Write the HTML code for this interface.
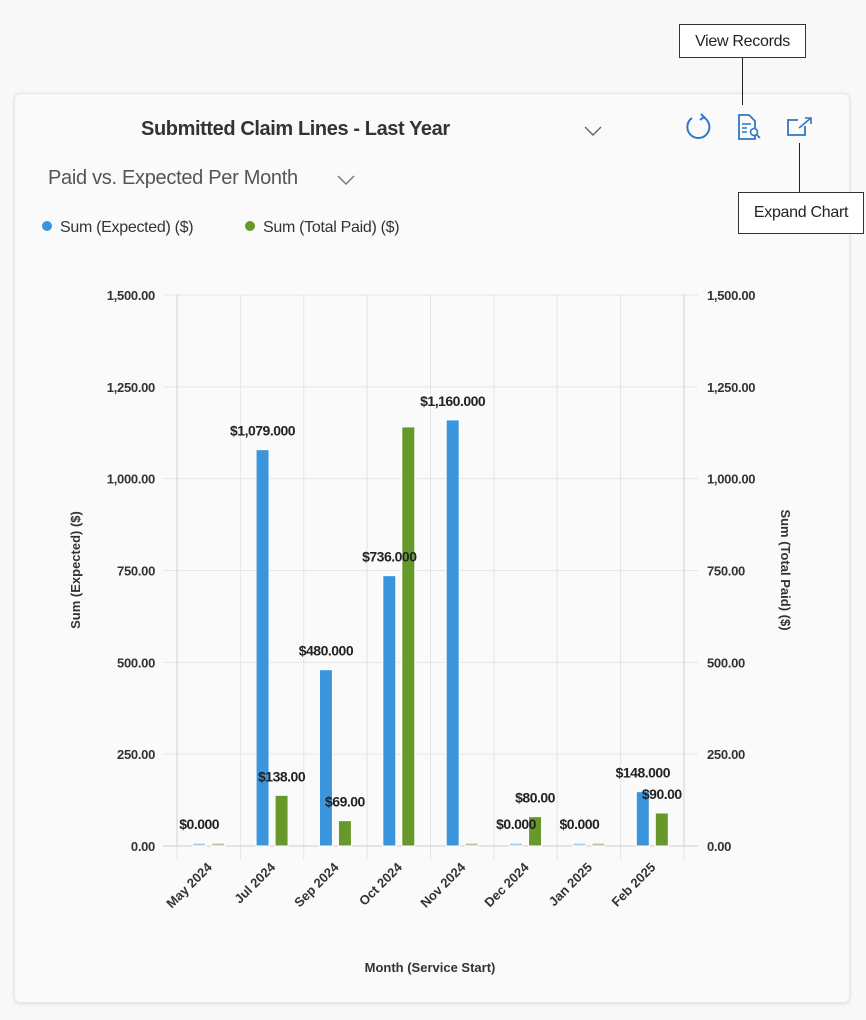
<!DOCTYPE html>
<html><head><meta charset="utf-8"><style>
html,body{margin:0;padding:0;background:#f8f8f8;width:866px;height:1020px;overflow:hidden;font-family:"Liberation Sans",sans-serif;}
.card{position:absolute;left:14px;top:93px;width:834px;height:908px;background:#fafafa;border:1px solid #e6e6e6;border-radius:6px;box-shadow:0 1px 3px rgba(0,0,0,.12);}
.t{position:absolute;color:#242424;white-space:nowrap;}
.callout{position:absolute;background:#fff;border:1px solid #333;font-size:16px;color:#222;height:32px;line-height:32px;letter-spacing:-.3px;text-align:center;box-sizing:border-box;}
</style></head><body>
<div class="card"></div>
<div class="t" style="left:141px;top:118px;font-size:20px;font-weight:bold;letter-spacing:-.4px;color:#333">Submitted Claim Lines - Last Year</div>
<svg style="position:absolute;left:583px;top:125px" width="20" height="12"><polyline points="2,2 10,10 18,2" fill="none" stroke="#666" stroke-width="1.4"/></svg>
<svg style="position:absolute;left:683px;top:113px" width="30" height="30"><path d="M9,5 A11,11 0 1 0 20,4" fill="none" stroke="#2f78c4" stroke-width="2"/><polyline points="18,1 21,4 17,7" fill="none" stroke="#2f78c4" stroke-width="2"/></svg>
<svg style="position:absolute;left:737px;top:114px" width="26" height="28"><path d="M2,1 H12 L18,7 V25 H2 Z" fill="none" stroke="#2f78c4" stroke-width="1.8"/><line x1="5" y1="10" x2="14" y2="10" stroke="#2f78c4" stroke-width="1.5"/><line x1="5" y1="14" x2="10" y2="14" stroke="#2f78c4" stroke-width="1.5"/><line x1="5" y1="18" x2="10" y2="18" stroke="#2f78c4" stroke-width="1.5"/><circle cx="17" cy="18" r="3.5" fill="#fafafa" stroke="#2f78c4" stroke-width="1.6"/><line x1="19.5" y1="20.5" x2="23" y2="24" stroke="#2f78c4" stroke-width="1.8"/></svg>
<svg style="position:absolute;left:786px;top:116px" width="28" height="22"><path d="M12,4 H2 V19 H19 V10" fill="none" stroke="#2f78c4" stroke-width="1.8"/><line x1="13" y1="12" x2="25" y2="2" stroke="#2f78c4" stroke-width="1.6"/><polyline points="19,2 25,2 25,8" fill="none" stroke="#2f78c4" stroke-width="1.6"/></svg>
<div style="position:absolute;left:742px;top:58px;width:1px;height:47px;background:#222"></div>
<div style="position:absolute;left:799px;top:143px;width:1px;height:49px;background:#222"></div>
<div class="callout" style="left:679px;top:24px;width:127px;height:34px;line-height:34px">View Records</div>
<div class="callout" style="left:738px;top:192px;width:126px;height:42px;line-height:40px">Expand Chart</div>
<div class="t" style="left:48px;top:167px;font-size:20px;color:#555;letter-spacing:-.3px">Paid vs. Expected Per Month</div>
<svg style="position:absolute;left:336px;top:174px" width="20" height="12"><polyline points="2,2 10,10 18,2" fill="none" stroke="#777" stroke-width="1.4"/></svg>
<div class="t" style="left:42px;top:219px;font-size:16px;color:#333;letter-spacing:-.3px"><span style="display:inline-block;width:10px;height:10px;border-radius:50%;background:#3b95dc;margin-right:8px;vertical-align:1px"></span>Sum (Expected) ($)</div>
<div class="t" style="left:245px;top:219px;font-size:16px;color:#333;letter-spacing:-.3px"><span style="display:inline-block;width:10px;height:10px;border-radius:50%;background:#67982a;margin-right:8px;vertical-align:1px"></span>Sum (Total Paid) ($)</div>
<svg id="chart" style="position:absolute;left:0;top:0" width="866" height="1020"></svg>
<script>
const categories=["May 2024","Jul 2024","Sep 2024","Oct 2024","Nov 2024","Dec 2024","Jan 2025","Feb 2025"];
const expected=[0,1079,480,736,1160,0,0,148];
const paid=[0,138,69,1141,0,80,0,90];
const expectedLabels=["$0.000","$1,079.000","$480.000","$736.000","$1,160.000","$0.000","$0.000","$148.000"];
const paidLabels=["","$138.00","$69.00","","","$80.00","","$90.00"];
const ticks=[0,250,500,750,1000,1250,1500];
const tickLabels=["0.00","250.00","500.00","750.00","1,000.00","1,250.00","1,500.00"];
const NS="http://www.w3.org/2000/svg",svg=document.getElementById('chart');
const x0=177,x1=684,yb=846,yt=295,max=1500;
const bw=(x1-x0)/categories.length;
const y=v=>yb-(v/max)*(yb-yt);
const xc=i=>x0+bw*(i+0.5);
function mk(t,a,txt){const e=document.createElementNS(NS,t);for(const k in a)e.setAttribute(k,a[k]);if(txt!==undefined)e.textContent=txt;svg.appendChild(e);return e;}
for(let i=0;i<=categories.length;i++){const g=mk('line',{x1:x0+bw*i,x2:x0+bw*i,y1:yt,y2:yb+14,stroke:'#e4e4e4'});
}
ticks.forEach((t,i)=>{const g=mk('line',{x1:163,x2:698,y1:y(t),y2:y(t),stroke:i==0?'#cfcfcf':'#e6e6e6'});

const l=mk('text',{x:155,y:y(t)+5,'text-anchor':'end','font-size':13,fill:'#333','font-weight':'bold','letter-spacing':'-0.3'},tickLabels[i]);

const r=mk('text',{x:707,y:y(t)+5,'font-size':13,fill:'#333','font-weight':'bold','letter-spacing':'-0.3'},tickLabels[i]);
});
mk('line',{x1:x0,x2:x0,y1:yt,y2:yb,stroke:'#d0d0d0'});
mk('line',{x1:x1,x2:x1,y1:yt,y2:yb,stroke:'#d0d0d0'});
categories.forEach((c,i)=>{
 [[expected,'#3b95dc','#a9cff0',-9.5,'bar-expected'],[paid,'#67982a','#b4cf93',9.5,'bar-paid']].forEach(([arr,col,light,off,nm])=>{
  const v=arr[i],cx=xc(i)+off,h=Math.max(yb-y(v),3);
  const r=mk('rect',{x:cx-6.5,y:yb-h,width:13,height:h,fill:v>0?col:light,stroke:'#fff','stroke-width':1});
  
 });
 const le=mk('text',{x:xc(i)-9.5,y:Math.min(y(expected[i]),yb-3)-14,'text-anchor':'middle','font-size':14,'font-weight':'bold','letter-spacing':'-0.5',fill:'#222'},expectedLabels[i]);
 
 if(paidLabels[i]){const lp=mk('text',{x:xc(i)+9.5,y:y(paid[i])-14,'text-anchor':'middle','font-size':14,'font-weight':'bold','letter-spacing':'-0.5',fill:'#222'},paidLabels[i]);
 }
 const xl=mk('text',{x:xc(i)+4,y:yb+22,'text-anchor':'end','font-size':13,'font-weight':'bold',fill:'#333',transform:`rotate(-45 ${xc(i)+4} ${yb+22})`},c);
 
});
const a1=mk('text',{x:430,y:972,'text-anchor':'middle','font-size':13,'font-weight':'bold',fill:'#333'},'Month (Service Start)');

const a2=mk('text',{x:80,y:570,'text-anchor':'middle','font-size':13,'font-weight':'bold',fill:'#333',transform:'rotate(-90 80 570)'},'Sum (Expected) ($)');

const a3=mk('text',{x:781,y:570,'text-anchor':'middle','font-size':13,'font-weight':'bold',fill:'#333',transform:'rotate(90 781 570)'},'Sum (Total Paid) ($)');

</script>
</body></html>
